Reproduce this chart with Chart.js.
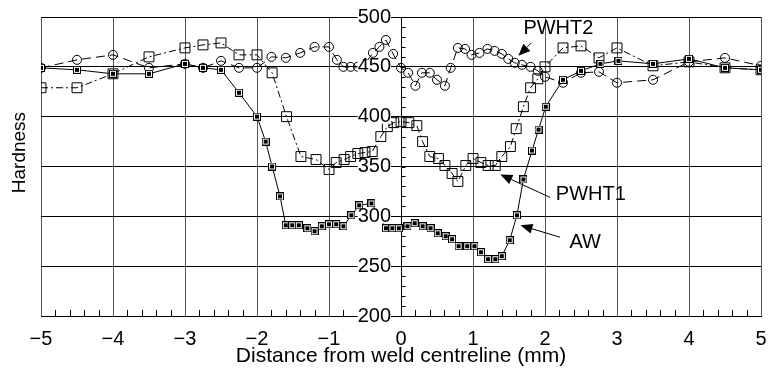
<!DOCTYPE html>
<html>
<head>
<meta charset="utf-8">
<script src="https://cdn.jsdelivr.net/npm/chart.js@4/dist/chart.umd.min.js"></script>
<style>
  html, body { margin: 0; padding: 0; background: #fff; }
  #wrap { width: 769px; height: 375px; position: relative; }
</style>
</head>
<body>
<div id="wrap"><canvas id="myChart"></canvas></div>
<script>
// hardness traverse across the weld, three conditions
const awX = [-5, -4.5, -4, -3.5, -3, -2.75, -2.5, -2.25, -2, -1.88, -1.79, -1.68, -1.6, -1.51, -1.42, -1.3, -1.2, -1.1, -1.0, -0.9, -0.8, -0.69, -0.58, -0.41,
             -0.21, -0.12, -0.03, 0.09, 0.19, 0.3, 0.41, 0.51, 0.62, 0.71, 0.8, 0.92, 1.02, 1.11, 1.21, 1.31, 1.4, 1.51, 1.61, 1.7, 1.82, 1.91, 2.01, 2.25, 2.5, 2.77, 3.02, 3.5, 4, 4.5, 5];
const awY = [449, 447, 443, 443, 453, 449, 447, 424, 400, 375, 350, 320, 291, 291, 291, 288, 285, 290, 292, 292, 290, 301, 311, 313,
             288, 288, 288, 290, 293, 290, 288, 283, 280, 277, 270, 270, 270, 264, 257, 257, 260, 276, 301, 337, 366, 387, 410, 437, 446, 453, 456, 453, 458, 449, 447];

const pwht1X = [-5, -4.5, -4, -3.5, -3, -2.75, -2.5, -2.25, -2, -1.79, -1.59, -1.39, -1.18, -1.0, -0.9, -0.79, -0.7, -0.6, -0.5, -0.4, -0.28, -0.19, -0.1, 0,
                0.11, 0.22, 0.3, 0.4, 0.52, 0.61, 0.71, 0.79, 0.9, 1.0, 1.11, 1.21, 1.31, 1.4, 1.52, 1.6, 1.7, 1.8, 1.9, 2.0, 2.25, 2.5, 2.75, 3.0, 3.5, 4, 4.5, 5];
const pwht1Y = [429, 429, 443, 460, 469, 472, 474, 462, 462, 444, 400, 360, 357, 347, 354, 357, 360, 363, 364, 365, 380, 390, 394, 395,
                394, 391, 375, 360, 358, 351, 343, 335, 351, 358, 354, 351, 351, 360, 370, 388, 410, 429, 438, 450, 469, 471, 459, 469, 451, 455, 449, 447];

const pwht2X = [-5, -4.5, -4, -3.5, -3, -2.75, -2.5, -2.25, -2, -1.8, -1.6, -1.4, -1.2, -1.0, -0.89, -0.8, -0.7, -0.6, -0.5, -0.39, -0.3, -0.21, -0.11, 0,
                0.1, 0.2, 0.29, 0.4, 0.5, 0.61, 0.69, 0.79, 0.89, 0.98, 1.09, 1.2, 1.3, 1.4, 1.49, 1.58, 1.68, 1.8, 1.9, 2.0, 2.25, 2.5, 2.75, 3.0, 3.5, 4, 4.5, 5];
const pwht2Y = [449, 457, 462, 449, 453, 449, 456, 449, 449, 460, 459, 464, 470, 470, 457, 450, 450, 450, 453, 464, 470, 477, 463, 449,
                444, 431, 444, 444, 437, 431, 449, 469, 468, 462, 464, 468, 466, 463, 458, 454, 452, 450, 446, 440, 434, 444, 445, 434, 437, 455, 459, 451];

const xTicks = [-5, -4, -3, -2, -1, 0, 1, 2, 3, 4, 5];
const yTicks = [200, 250, 300, 350, 400, 450, 500];

const FONT = "'Liberation Sans', Arial, sans-serif";

function points(xs, ys) {
    return xs.map((x, i) => ({x: x, y: ys[i]}));
}

// square with a small filled square inside, used for the AW points
function awMarker() {
    const c = document.createElement('canvas');
    c.width = 8; c.height = 8;
    const g = c.getContext('2d');
    g.fillStyle = '#fff';
    g.fillRect(0, 0, 8, 8);
    g.strokeStyle = '#000';
    g.lineWidth = 1;
    g.strokeRect(0.5, 0.5, 7, 7);
    g.fillStyle = '#000';
    g.fillRect(2, 2, 4, 4);
    return c;
}

function arrow(ctx, x1, y1, x2, y2) {
    const ang = Math.atan2(y2 - y1, x2 - x1);
    const len = 12, half = 5;
    const bx = x2 - len * Math.cos(ang), by = y2 - len * Math.sin(ang);
    ctx.beginPath();
    ctx.moveTo(x1, y1);
    ctx.lineTo(bx, by);
    ctx.stroke();
    ctx.beginPath();
    ctx.moveTo(x2, y2);
    ctx.lineTo(bx + half * Math.sin(ang), by - half * Math.cos(ang));
    ctx.lineTo(bx - half * Math.sin(ang), by + half * Math.cos(ang));
    ctx.closePath();
    ctx.fill();
}

const extras = {
    id: 'extras',
    afterDatasetsDraw(chart) {
        const {ctx, chartArea} = chart;
        const x = chart.scales.x, y = chart.scales.y;
        ctx.save();
        ctx.strokeStyle = '#000';
        ctx.fillStyle = '#000';
        ctx.lineWidth = 1;
        // minor ticks along the bottom axis
        ctx.beginPath();
        for (let i = -25; i <= 25; i++) {
            if (i % 5 === 0) continue;
            const px = Math.round(x.getPixelForValue(i / 5)) + 0.5;
            ctx.moveTo(px, chartArea.bottom);
            ctx.lineTo(px, chartArea.bottom - 6);
        }
        // minor ticks on the centre axis
        const x0 = Math.round(x.getPixelForValue(0)) + 0.5;
        for (let v = 210; v < 500; v += 10) {
            const py = Math.round(y.getPixelForValue(v)) + 0.5;
            ctx.moveTo(x0, py);
            ctx.lineTo(x0 + 4, py);
        }
        ctx.stroke();

        // y axis title, sitting a little above the middle as in the original
        ctx.save();
        ctx.translate(20, y.getPixelForValue(364));
        ctx.rotate(-Math.PI / 2);
        ctx.font = '19px ' + FONT;
        ctx.textAlign = 'center';
        ctx.textBaseline = 'middle';
        ctx.fillText('Hardness', 0, 0);
        ctx.restore();

        // labels with arrows
        ctx.font = '20px ' + FONT;
        ctx.textBaseline = 'middle';
        ctx.textAlign = 'left';
        const P = (a, b) => [x.getPixelForValue(a), y.getPixelForValue(b)];
        let t;
        t = P(1.7, 488); ctx.fillText('PWHT2', t[0], t[1]);
        t = P(2.15, 322); ctx.fillText('PWHT1', t[0], t[1]);
        t = P(2.34, 274); ctx.fillText('AW', t[0], t[1]);
        let a, b;
        a = P(1.81, 474); b = P(1.63, 461); arrow(ctx, a[0], a[1], b[0], b[1]);
        a = P(2.07, 319); b = P(1.38, 342); arrow(ctx, a[0], a[1], b[0], b[1]);
        a = P(2.21, 279); b = P(1.66, 291); arrow(ctx, a[0], a[1], b[0], b[1]);
        ctx.restore();
    }
};

const ctx = document.getElementById('myChart').getContext('2d');
new Chart(ctx, {
    type: 'line',
    data: {
        datasets: [
            {
                label: 'AW',
                data: points(awX, awY),
                borderColor: '#000',
                borderWidth: 1,
                pointStyle: awMarker(),
                pointRadius: 4,
                fill: false,
                tension: 0
            },
            {
                label: 'PWHT1',
                data: points(pwht1X, pwht1Y),
                borderColor: '#000',
                borderWidth: 1,
                borderDash: [7, 3, 2, 3],
                pointStyle: 'rect',
                pointRadius: 7,
                pointBorderWidth: 1,
                pointBorderColor: '#000',
                pointBackgroundColor: 'rgba(0,0,0,0)',
                fill: false,
                tension: 0
            },
            {
                label: 'PWHT2',
                data: points(pwht2X, pwht2Y),
                borderColor: '#000',
                borderWidth: 1,
                borderDash: [9, 5],
                pointStyle: 'circle',
                pointRadius: 4.5,
                pointBorderWidth: 1,
                pointBorderColor: '#000',
                pointBackgroundColor: 'rgba(0,0,0,0)',
                fill: false,
                tension: 0
            }
        ]
    },
    options: {
        responsive: true,
        maintainAspectRatio: false,
        animation: false,
        layout: { padding: { top: 17, right: 0, left: 0, bottom: 0 } },
        plugins: { legend: { display: false }, tooltip: { enabled: false } },
        scales: {
            x: {
                type: 'linear',
                position: 'bottom',
                min: -5,
                max: 5,
                afterBuildTicks: (s) => { s.ticks = xTicks.map(v => ({value: v})); },
                afterFit: (s) => { s.height = 59; s.paddingRight = 6; },
                ticks: {
                    color: '#000',
                    font: { family: FONT, size: 20 },
                    padding: 11,
                    callback: (v) => String(v).replace('-', '\u2212')
                },
                grid: { color: '#555', drawTicks: false },
                border: { color: '#000' },
                title: {
                    display: true,
                    text: 'Distance from weld centreline (mm)',
                    color: '#000',
                    font: { family: FONT, size: 21 },
                    padding: { top: 0, bottom: 6 }
                }
            },
            y: {
                type: 'linear',
                position: 'center',
                min: 200,
                max: 500,
                afterBuildTicks: (s) => { s.ticks = yTicks.map(v => ({value: v})); },
                ticks: {
                    color: '#000',
                    font: { family: FONT, size: 20 },
                    padding: 0,
                    z: 1,
                    showLabelBackdrop: true,
                    backdropColor: '#fff',
                    backdropPadding: { top: -5, bottom: -5, left: 0, right: 0 }
                },
                grid: { color: '#000', tickLength: 10, tickColor: '#000' },
                border: { color: '#000' }
            },
            yTitle: {
                type: 'linear',
                position: 'left',
                min: 0,
                max: 1,
                afterFit: (s) => { s.width = 41; },
                ticks: { display: false },
                grid: { display: false },
                border: { display: false }
            }
        }
    },
    plugins: [extras]
});
</script>
</body>
</html>
